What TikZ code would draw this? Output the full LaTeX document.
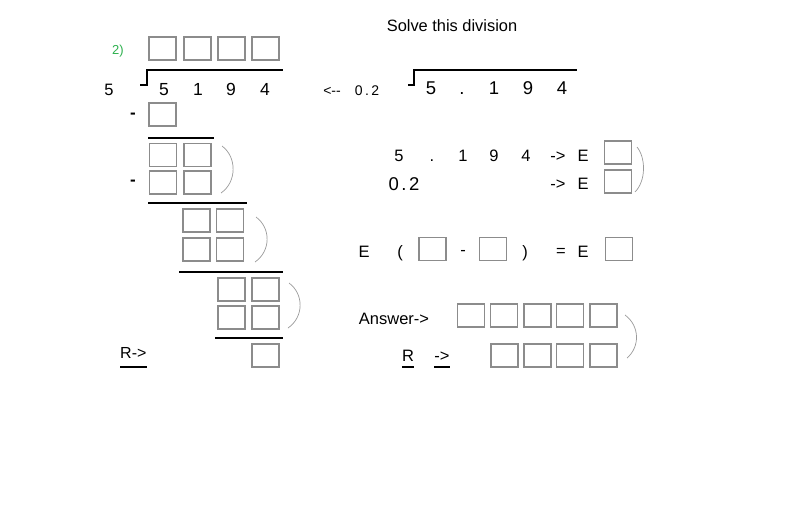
\documentclass[tikz,border=0pt]{standalone}
\usepackage{fontspec}
\setmainfont{Liberation Sans}
\definecolor{boxgray}{HTML}{8C8C8C}
\definecolor{arcgray}{HTML}{9A9A9A}
\definecolor{numgreen}{HTML}{2DB04E}
\begin{document}
\begin{tikzpicture}[x=1pt,y=-1pt,
  bx/.style={draw=boxgray,line width=1.8pt,minimum width=27pt,minimum height=23pt,inner sep=0pt},
  rulel/.style={line width=2.6pt,black},
  brk/.style={line width=2pt,black},
  arcl/.style={draw=arcgray,line width=0.7pt},
  ul/.style={line width=1.1pt,black},
  txt/.style={inner sep=0pt,anchor=base},
  f14/.style={txt,font=\fontsize{14}{16}\selectfont},
  f16/.style={txt,font=\fontsize{16.5}{18}\selectfont},
  f17/.style={txt,font=\fontsize{17.5}{19}\selectfont},
  f18/.style={txt,font=\fontsize{18.5}{20}\selectfont},
  minus/.style={inner sep=0pt,anchor=center,font=\fontsize{17}{18}\selectfont\bfseries}]
\useasboundingbox (0,0) rectangle (799,525);

% title
\node[txt,font=\fontsize{16.4}{18}\selectfont] (title) at (452,31) {Solve this division};

% ---------- left: long division ----------
\node[txt,font=\fontsize{13}{15}\selectfont,text=numgreen] (num) at (118,54) {2)};
\node[bx] (q1) at (162.5,48.5) {};
\node[bx] (q2) at (197.5,48.5) {};
\node[bx] (q3) at (231.5,48.5) {};
\node[bx] (q4) at (265.5,48.5) {};

\coordinate (lb1) at (140,85);
\coordinate (lb2) at (147,85);
\coordinate (lb3) at (147,70);
\coordinate (lb4) at (283,70);
\draw[brk] (lb1) -- (lb2) -- (lb3) -- (lb4);

\node[f16] (dv) at (109,95) {5};
\node[f17] (d1) at (164,95) {5};
\node[f17] (d2) at (198,95) {1};
\node[f17] (d3) at (231,95) {9};
\node[f17] (d4) at (265,95) {4};

\node[minus] (m1) at (133,116) {-};
\node[bx] (s1) at (162.5,114.5) {};

\coordinate (r1a) at (148,138);
\coordinate (r1b) at (214,138);
\draw[rulel] (r1a) -- (r1b);

\node[bx] (a11) at (163,155) {};
\node[bx] (a12) at (197.5,155) {};
\node[bx] (a21) at (163,182.5) {};
\node[bx] (a22) at (197.5,182.5) {};
\node[minus] (m2) at (133,183) {-};
\coordinate (c1s) at (222,146);
\coordinate (c1e) at (221,193);
\draw[arcl] (c1s) .. controls (237,157) and (237,182) .. (c1e);

\coordinate (r2a) at (148,203);
\coordinate (r2b) at (247,203);
\draw[rulel] (r2a) -- (r2b);

\node[bx] (b11) at (196.5,220.5) {};
\node[bx] (b12) at (230,220.5) {};
\node[bx] (b21) at (196.5,249.5) {};
\node[bx] (b22) at (230,249.5) {};
\coordinate (c2s) at (256,217);
\coordinate (c2e) at (255,262);
\draw[arcl] (c2s) .. controls (271,228) and (271,251) .. (c2e);

\coordinate (r3a) at (179,272);
\coordinate (r3b) at (283,272);
\draw[rulel] (r3a) -- (r3b);

\node[bx] (e11) at (231.5,289.5) {};
\node[bx] (e12) at (265.5,289.5) {};
\node[bx] (e21) at (231.5,317.5) {};
\node[bx] (e22) at (265.5,317.5) {};
\coordinate (c3s) at (289,283);
\coordinate (c3e) at (288,328);
\draw[arcl] (c3s) .. controls (304,294) and (304,317) .. (c3e);

\coordinate (r4a) at (215,338);
\coordinate (r4b) at (283,338);
\draw[rulel] (r4a) -- (r4b);

\node[bx] (rem) at (265.5,355.5) {};
\node[txt,font=\fontsize{16}{18}\selectfont,anchor=base west] (rl) at (120,358) {R->};
\draw[ul] ([yshift=-9pt]rl.base west) -- ([yshift=-9pt]rl.base east);

% ---------- right side ----------
\node[f14] (arr) at (332,95) {<-\kern0pt-};
\node[f14] (dz) at (367,95) {0\kern2.5pt.\kern2.5pt2};

\coordinate (rb1) at (408,85);
\coordinate (rb2) at (414,85);
\coordinate (rb3) at (414,70);
\coordinate (rb4) at (577,70);
\draw[brk] (rb1) -- (rb2) -- (rb3) -- (rb4);

\node[f18] (g1) at (431,94) {5};
\node[f18] (g2) at (462,94) {.};
\node[f18] (g3) at (494,94) {1};
\node[f18] (g4) at (528,94) {9};
\node[f18] (g5) at (562,94) {4};

% exponent rows
\node[f16] (h1) at (399,161) {5};
\node[f16] (h2) at (432,161) {.};
\node[f16] (h3) at (463,161) {1};
\node[f16] (h4) at (494,161) {9};
\node[f16] (h5) at (526,161) {4};
\node[f16] (h6) at (558,161) {->};
\node[f16] (h7) at (583,161) {E};
\node[bx] (hb) at (618,152.5) {};

\node[f18] (k1) at (404,190) {0\kern2.5pt.\kern2.5pt2};
\node[f16] (k6) at (558,189) {->};
\node[f16] (k7) at (583,189) {E};
\node[bx] (kb) at (618,181.5) {};
\coordinate (c4s) at (637,147);
\coordinate (c4e) at (635,192);
\draw[arcl] (c4s) .. controls (646,158) and (646,181) .. (c4e);

% E ( - ) = E
\node[f16] (p1) at (364,257) {E};
\node[f16] (p2) at (400,257) {(};
\node[bx] (pb1) at (432.5,249) {};
\node[f16] (p3) at (463,255) {-};
\node[bx] (pb2) at (493,249) {};
\node[f16] (p4) at (525,257) {)};
\node[f16] (p5) at (561,256) {=};
\node[f16] (p6) at (583,257) {E};
\node[bx] (pb3) at (619,249) {};

% answer
\node[f16] (ans) at (394,324) {Answer->};
\node[bx] (x1) at (471,315.5) {};
\node[bx] (x2) at (504,315.5) {};
\node[bx] (x3) at (537.5,315.5) {};
\node[bx] (x4) at (570,315.5) {};
\node[bx] (x5) at (603.5,315.5) {};
\node[bx] (y2) at (504.5,355.5) {};
\node[bx] (y3) at (537.5,355.5) {};
\node[bx] (y4) at (570,355.5) {};
\node[bx] (y5) at (603.5,355.5) {};
\coordinate (c5s) at (625,315);
\coordinate (c5e) at (627,358);
\draw[arcl] (c5s) .. controls (640,326) and (640,347) .. (c5e);

\node[f16] (rr) at (408,361) {R};
\draw[ul] ([yshift=-6pt]rr.base west) -- ([yshift=-6pt]rr.base east);
\node[f16] (ra) at (442,361) {->};
\draw[ul] ([yshift=-6pt]ra.base west) -- ([yshift=-6pt]ra.base east);
\end{tikzpicture}
\end{document}
